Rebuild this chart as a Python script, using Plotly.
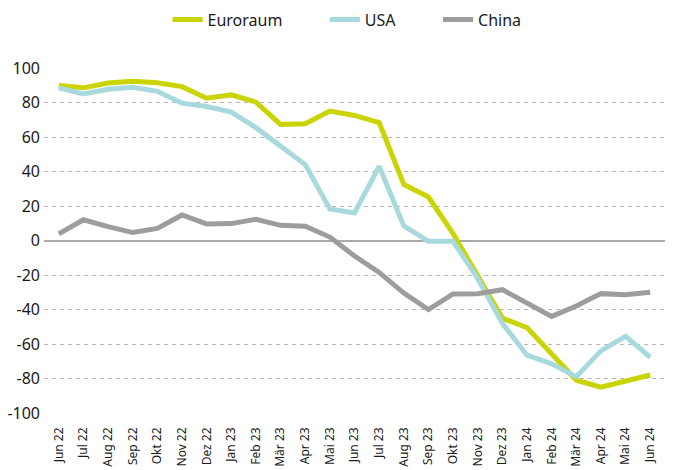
import plotly.graph_objects as go

months = ["Jun 22", "Jul 22", "Aug 22", "Sep 22", "Okt 22", "Nov 22", "Dez 22",
          "Jan 23", "Feb 23", "Mär 23", "Apr 23", "Mai 23", "Jun 23", "Jul 23",
          "Aug 23", "Sep 23", "Okt 23", "Nov 23", "Dez 23", "Jan 24", "Feb 24",
          "Mär 24", "Apr 24", "Mai 24", "Jun 24"]

euroraum = [89.8, 88.5, 91.3, 92.3, 91.5, 89.2, 82.5, 84.4, 80.2, 67.3, 67.7, 75.0,
            72.5, 68.3, 32.5, 25.2, 4.0, -20.0, -45.0, -50.5, -65.5, -81.0, -85.0,
            -81.5, -78.0]
usa = [88.5, 85.0, 87.7, 88.8, 86.5, 79.6, 77.7, 74.4, 65.4, 54.6, 44.0, 18.3,
       16.0, 43.0, 8.5, -0.5, -0.5, -22.0, -48.0, -66.5, -71.5, -79.0, -64.0,
       -55.6, -67.7]
china = [3.8, 12.0, 8.0, 4.6, 7.0, 14.8, 9.6, 9.8, 12.3, 8.8, 8.3, 2.0,
         -9.0, -18.5, -30.5, -40.0, -31.0, -30.8, -28.5, -36.0, -44.0, -38.0,
         -30.8, -31.5, -30.0]

y_ticks = [100, 80, 60, 40, 20, 0, -20, -40, -60, -80, -100]

series = [("Euroraum", euroraum, "#c9d400"),
          ("USA", usa, "#a8dadd"),
          ("China", china, "#9d9d9c")]

FONT = "Noto Sans"
PAD = "\u00a0" * 9

fig = go.Figure()
for i, (name, vals, col) in enumerate(series):
    label = name + (PAD if i < len(series) - 1 else "")
    fig.add_trace(go.Scatter(
        x=list(range(len(months))), y=vals, name=label, mode="lines",
        line=dict(color=col, width=5), hoverinfo="skip"))

# the page body adds an 8px offset; margins compensate for it
fig.update_layout(
    width=678, height=470,
    margin=dict(l=36, r=21, t=60, b=65, autoexpand=False),
    paper_bgcolor="white", plot_bgcolor="white",
    font=dict(family=FONT, color="#1a1a1a", size=15),
    showlegend=True,
    legend=dict(orientation="h", x=0.488, xanchor="center", y=1.14,
                yanchor="middle", font=dict(size=16, family=FONT),
                itemwidth=30, traceorder="normal"),
)
fig.update_xaxes(
    range=[-0.6, len(months) - 0.4], automargin=False,
    tickmode="array", tickvals=list(range(len(months))), ticktext=months,
    tickangle=-90, tickfont=dict(size=12, family=FONT), ticklabelstandoff=11,
    showgrid=False, zeroline=False, showline=False, ticks="",
)
fig.update_yaxes(
    range=[-100, 100], automargin=False,
    tickmode="array", tickvals=y_ticks, ticktext=[str(v) for v in y_ticks],
    tickfont=dict(size=16, family=FONT), ticklabelstandoff=3,
    showgrid=True, gridcolor="#b8b8b8", gridwidth=1, griddash="4px,4px",
    zeroline=True, zerolinecolor="#aaaaaa", zerolinewidth=1.5,
    showline=False, ticks="",
)

fig.write_html("out.html")
